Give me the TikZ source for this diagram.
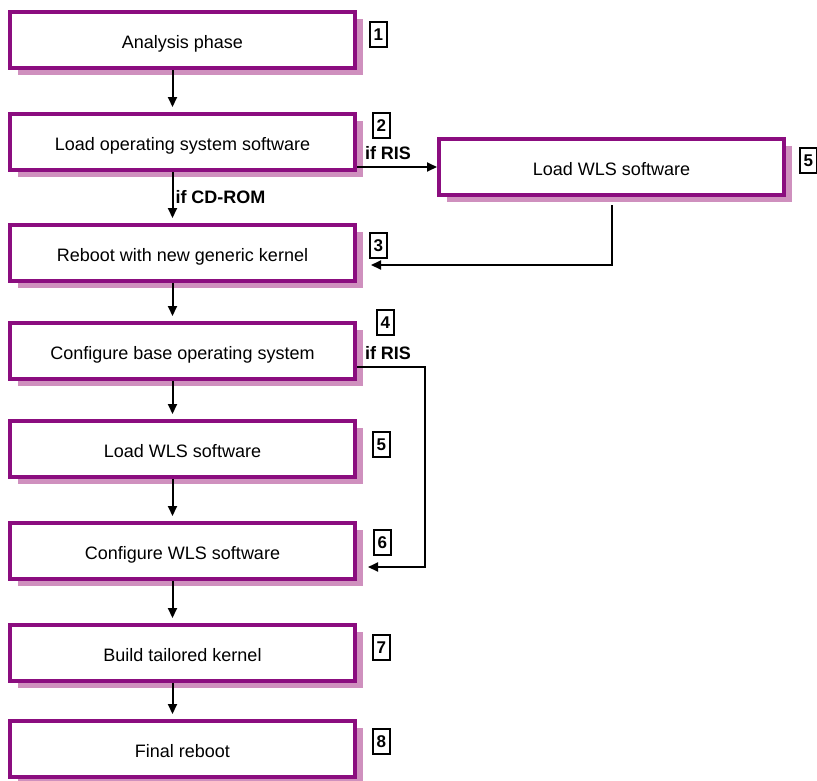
\documentclass[tikz,border=0pt]{standalone}
\usepackage{fontspec}
\setmainfont{Liberation Sans}
\usepackage{tikz}
\usetikzlibrary{arrows.meta,positioning,shadows}
\definecolor{wlspurple}{HTML}{8B0D7F}
\definecolor{wlsshade}{HTML}{CF90BE}

\begin{document}
\begin{tikzpicture}[
  node distance=40pt,
  box/.style={draw=wlspurple,line width=4pt,fill=white,minimum width=345pt,minimum height=56pt,align=center,text height=16pt,text depth=0pt,font=\fontsize{18}{21}\selectfont,drop shadow={shadow xshift=8pt,shadow yshift=-7pt,fill=wlsshade,opacity=1}},
  tag/.style={draw,line width=1.8pt,minimum width=17pt,minimum height=25pt,inner sep=0pt,anchor=north west,font=\fontsize{17}{20}\selectfont\bfseries},
  cond/.style={font=\fontsize{18}{21}\selectfont\bfseries,inner sep=2pt},
  arr/.style={-{Triangle[length=10pt,width=9pt]},line width=2pt}
]
\useasboundingbox (0,0) rectangle (817pt,-780pt);
\node[box] (analysis) at (182.5pt,-40pt) {Analysis phase};
\node[box,below=42pt of analysis] (loados) {Load operating system software};
\node[box,below=51pt of loados] (reboot) {Reboot with new generic kernel};
\node[box,below=38pt of reboot] (basecfg) {Configure base operating system};
\node[box,below=38pt of basecfg] (wlsload) {Load WLS software};
\node[box,below=42pt of wlsload] (wlscfg) {Configure WLS software};
\node[box,below=42pt of wlscfg] (kernel) {Build tailored kernel};
\node[box,below=36pt of kernel] (final) {Final reboot};
\node[box,right=80pt of loados,yshift=-25pt] (wls) {Load WLS software};
% step numbers
\node[tag] (t1) at ([xshift=12pt,yshift=-11pt]analysis.north east) {1};
\node[tag] (t2) at ([xshift=15pt]loados.north east) {2};
\node[tag] (t3) at ([xshift=12pt,yshift=-9pt]reboot.north east) {3};
\node[tag] (t4) at ([xshift=19pt,yshift=12pt]basecfg.north east) {4};
\node[tag] (t5) at ([xshift=15pt,yshift=-12pt]wlsload.north east) {5};
\node[tag] (t6) at ([xshift=16pt,yshift=-8pt]wlscfg.north east) {6};
\node[tag] (t7) at ([xshift=15pt,yshift=-11pt]kernel.north east) {7};
\node[tag] (t8) at ([xshift=15pt,yshift=-9pt]final.north east) {8};
\node[tag] (t5r) at ([xshift=13pt,yshift=-10pt]wls.north east) {5};
% main flow
\draw[arr,shorten >=5pt] ([xshift=-10pt]analysis.south) -- ([xshift=-10pt]loados.north);
\draw[arr,shorten >=5pt] ([xshift=-10pt]loados.south) -- node[cond,right]{if CD-ROM} ([xshift=-10pt]reboot.north);
\draw[arr,shorten >=5pt] ([xshift=-10pt]reboot.south) -- ([xshift=-10pt]basecfg.north);
\draw[arr,shorten >=5pt] ([xshift=-10pt]basecfg.south) -- ([xshift=-10pt]wlsload.north);
\draw[arr,shorten >=5pt] ([xshift=-10pt]wlsload.south) -- ([xshift=-10pt]wlscfg.north);
\draw[arr,shorten >=5pt] ([xshift=-10pt]wlscfg.south) -- ([xshift=-10pt]kernel.north);
\draw[arr,shorten >=5pt] ([xshift=-10pt]kernel.south) -- ([xshift=-10pt]final.north);
% RIS branches
\draw[arr] (loados.east |- wls.west) -- node[cond,pos=0,anchor=south west,xshift=5pt,yshift=4pt]{if RIS} (wls.west);
\coordinate (back) at ([xshift=14pt,yshift=-12pt]reboot.east);
\draw[arr,shorten <=8pt] (wls.south) |- (back);
\coordinate (ristop) at ([xshift=68pt,yshift=-16pt]basecfg.east);
\coordinate (risend) at ([xshift=11pt,yshift=-16pt]wlscfg.east);
\draw[arr] ([yshift=-16pt]basecfg.east) -- node[cond,pos=0,anchor=south west,xshift=5pt,yshift=4pt]{if RIS} (ristop) |- (risend);
\end{tikzpicture}
\end{document}
